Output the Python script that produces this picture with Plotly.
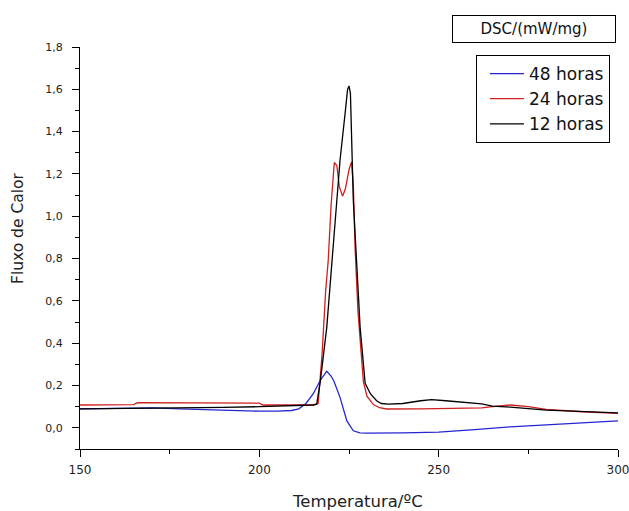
import plotly.graph_objects as go

# DSC curves
x_48h = [150, 160, 165, 170, 180, 190, 200, 205, 209, 211, 213, 215, 217, 218.8, 220, 220.8,
         222.5, 224.4, 226.2, 228, 230, 240, 250, 260, 270, 280, 290, 300]
y_48h = [0.090, 0.092, 0.095, 0.094, 0.088, 0.082, 0.079, 0.079, 0.082, 0.090, 0.115, 0.160,
         0.225, 0.267, 0.245, 0.220, 0.144, 0.033, -0.014, -0.024, -0.025, -0.024, -0.020,
         -0.008, 0.005, 0.014, 0.024, 0.033]

x_24h = [150, 165, 166, 200, 201, 215, 216.4, 217.5, 218.5, 219.2, 220, 220.9, 221.6, 222.3,
         223.2, 224, 225, 225.7, 226.2, 226.7, 227.5, 228.3, 229, 230, 231.8, 233.5, 235.5,
         245, 255, 262, 265, 270, 275, 280, 290, 300]
y_24h = [0.108, 0.110, 0.119, 0.117, 0.108, 0.108, 0.115, 0.35, 0.65, 0.79, 1.05, 1.254, 1.24,
         1.14, 1.095, 1.13, 1.22, 1.257, 1.15, 0.85, 0.55, 0.35, 0.22, 0.15, 0.11, 0.095, 0.089,
         0.090, 0.092, 0.094, 0.100, 0.108, 0.100, 0.087, 0.076, 0.068]

x_12h = [150, 170, 190, 200, 210, 215, 216, 217, 218.8, 220.5, 222.5, 224, 224.6, 225, 225.4,
         226.2, 227, 228.1, 229.5, 231, 232.7, 234, 236, 240, 245, 248, 252, 258, 262, 265,
         270, 280, 290, 300]
y_12h = [0.090, 0.092, 0.097, 0.100, 0.105, 0.108, 0.112, 0.22, 0.475, 0.85, 1.265, 1.50, 1.60,
         1.616, 1.58, 1.076, 0.8, 0.475, 0.21, 0.16, 0.128, 0.115, 0.112, 0.115, 0.128, 0.133,
         0.128, 0.118, 0.113, 0.103, 0.098, 0.084, 0.077, 0.071]

series = [
    ("48 horas", x_48h, y_48h, "#2626d0"),
    ("24 horas", x_24h, y_24h, "#d01f1f"),
    ("12 horas", x_12h, y_12h, "#000000"),
]

fig = go.Figure()
for name, xs, ys, col in series:
    fig.add_trace(go.Scatter(x=xs, y=ys, mode="lines", name=name,
                             line=dict(color=col, width=1.3)))

fnt = "DejaVu Sans"
fig.update_layout(
    width=629, height=511,
    margin=dict(l=80, r=11, t=47, b=62),
    plot_bgcolor="white", paper_bgcolor="white",
    separators=",.",
    font=dict(family=fnt, color="#222", size=11),
    legend=dict(x=0.985, y=0.98, xanchor="right", yanchor="top",
                bordercolor="black", borderwidth=1, bgcolor="white",
                font=dict(size=17, color="#111"), itemwidth=34,
                indentation=8, tracegroupgap=0),
    annotations=[
        dict(text="DSC/(mW/mg)", xref="paper", yref="paper",
             x=0.843, y=1.046, xanchor="center", yanchor="middle",
             showarrow=False, font=dict(size=15, color="#111"),
             bordercolor="black", borderwidth=1, borderpad=2,
             width=158, height=22),
        # axis titles sit a bit off-centre in the original, so place them by hand
        dict(text="Temperatura/ºC", xref="paper", yref="paper",
             x=0.516, y=-0.13, xanchor="center", yanchor="middle",
             showarrow=False, font=dict(size=16.5, color="#222")),
        dict(text="Fluxo de Calor", xref="paper", yref="paper", textangle=-90,
             x=-0.115, y=0.55, xanchor="center", yanchor="middle",
             showarrow=False, font=dict(size=15.5, color="#222")),
    ],
)
fig.update_xaxes(range=[150, 300], dtick=50, tick0=150, showgrid=False, zeroline=False,
                 automargin=False, ticklabeloverflow="allow",
                 showline=True, linecolor="black", linewidth=1,
                 ticks="outside", ticklen=7, tickcolor="black", ticklabelstandoff=3,
                 minor=dict(ticks="outside", ticklen=4, dtick=25, tickcolor="black"),
                 tickfont=dict(size=12))
fig.update_yaxes(range=[-0.1, 1.8], dtick=0.2, tick0=0, tickformat=".1f",
                 showgrid=False, zeroline=False, automargin=False,
                 showline=True, linecolor="black", linewidth=1,
                 ticks="outside", ticklen=7, tickcolor="black", ticklabelstandoff=7,
                 minor=dict(ticks="outside", ticklen=4, dtick=0.1, tickcolor="black"),
                 tickfont=dict(size=11))

# drop the default 8px body margin so the figure fills the window
fig.write_html("out.html", config={"displayModeBar": False},
               post_script="document.body.style.margin='0';")
